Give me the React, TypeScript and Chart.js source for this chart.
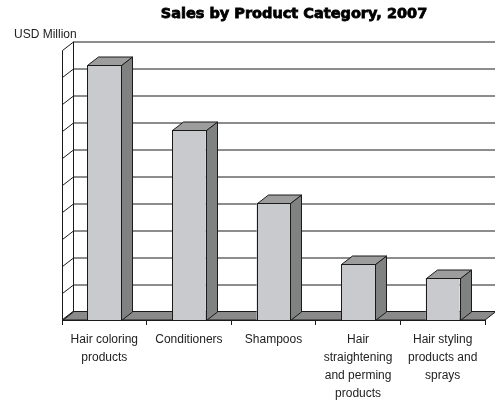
import React, { useEffect, useRef } from "react";
import { Chart, registerables } from "chart.js";

Chart.register(...registerables);

const title = "Sales by Product Category, 2007";
const unitLabel = "USD Million";
const categories: string[][] = [
  ["Hair coloring", "products"],
  ["Conditioners"],
  ["Shampoos"],
  ["Hair", "straightening", "and perming", "products"],
  ["Hair styling", "products and", "sprays"],
];
const salesValues = [9.45, 7.05, 4.35, 2.07, 1.55];
const axisMin = 0;
const axisMax = 10;
const axisStep = 1;

const DX = 11;
const DY = 8.5;

const FRONT = "#c9cacd";
const SIDE = "#808282";
const TOP = "#9d9d9d";
const FLOOR = "#8a8a8a";
const LINE = "#1a1a1a";

const threeD = {
  id: "threeD",
  beforeDatasetsDraw(chart: any) {
    const { ctx, chartArea, scales } = chart;
    const y = scales.y;
    const L = chartArea.left;
    const R = chartArea.right;
    const y0 = y.getPixelForValue(axisMin);
    const yTop = y.getPixelForValue(axisMax);
    ctx.save();
    ctx.lineWidth = 1;
    ctx.strokeStyle = LINE;
    // floor
    ctx.fillStyle = FLOOR;
    ctx.beginPath();
    ctx.moveTo(L, y0);
    ctx.lineTo(R, y0);
    ctx.lineTo(R + DX, y0 - DY);
    ctx.lineTo(L + DX, y0 - DY);
    ctx.closePath();
    ctx.fill();
    ctx.stroke();
    // back wall gridlines and left wall
    for (let v = axisMin; v <= axisMax; v += axisStep) {
      const py = Math.round(y.getPixelForValue(v)) + 0.5;
      if (v > axisMin) {
        ctx.beginPath();
        ctx.moveTo(L + DX, py - DY);
        ctx.lineTo(R + DX + 20, py - DY);
        ctx.stroke();
      }
      ctx.beginPath();
      ctx.moveTo(L + 0.5, py);
      ctx.lineTo(L + 0.5 + DX, py - DY);
      ctx.stroke();
    }
    ctx.beginPath();
    ctx.moveTo(L + 0.5, y0);
    ctx.lineTo(L + 0.5, Math.round(yTop) + 0.5);
    ctx.moveTo(Math.round(L + DX) + 0.5, y0 - DY);
    ctx.lineTo(Math.round(L + DX) + 0.5, Math.round(yTop) + 0.5 - DY);
    ctx.stroke();
    ctx.restore();
  },
  afterDatasetsDraw(chart: any) {
    const { ctx } = chart;
    const meta = chart.getDatasetMeta(0);
    ctx.save();
    ctx.lineWidth = 1;
    ctx.strokeStyle = LINE;
    ctx.lineJoin = "round";
    meta.data.forEach((bar: any) => {
      const p = bar.getProps(["x", "y", "base", "width"], true);
      const xl = Math.round(p.x - p.width / 2) + 0.5;
      const xr = Math.round(p.x + p.width / 2) + 0.5;
      const top = Math.round(p.y) + 0.5;
      const base = Math.round(p.base) + 0.5;
      // side
      ctx.fillStyle = SIDE;
      ctx.beginPath();
      ctx.moveTo(xr, top);
      ctx.lineTo(xr + DX, top - DY);
      ctx.lineTo(xr + DX, base - DY);
      ctx.lineTo(xr, base);
      ctx.closePath();
      ctx.fill();
      ctx.stroke();
      // top
      ctx.fillStyle = TOP;
      ctx.beginPath();
      ctx.moveTo(xl, top);
      ctx.lineTo(xr, top);
      ctx.lineTo(xr + DX, top - DY);
      ctx.lineTo(xl + DX, top - DY);
      ctx.closePath();
      ctx.fill();
      ctx.stroke();
      // front outline
      ctx.strokeRect(xl, top, xr - xl, base - top);
    });
    ctx.restore();
  },
  afterDraw(chart: any) {
    const { ctx } = chart;
    ctx.save();
    ctx.fillStyle = "#000";
    ctx.strokeStyle = "#000";
    ctx.lineWidth = 0.8;
    ctx.textBaseline = "alphabetic";
    ctx.textAlign = "center";
    ctx.font = "bold 14.5px 'DejaVu Sans'";
    ctx.fillText(title, 294, 18);
    ctx.strokeText(title, 294, 18);
    ctx.textAlign = "left";
    ctx.fillStyle = "#222";
    ctx.font = "12px 'Liberation Sans'";
    ctx.fillText(unitLabel, 14, 38);
    ctx.restore();
  },
};

export default function App() {
  const ref = useRef<HTMLCanvasElement | null>(null);
  useEffect(() => {
    if (!ref.current) return;
    const chart = new Chart(ref.current, {
      type: "bar",
      data: {
        labels: categories,
        datasets: [
          {
            data: salesValues,
            backgroundColor: FRONT,
            borderWidth: 0,
            barPercentage: 0.8,
            categoryPercentage: 0.5,
          },
        ],
      },
      options: {
        responsive: false,
        animation: false,
        layout: { padding: { left: 62, right: 10, top: 50, bottom: 0 } },
        plugins: {
          legend: { display: false },
          title: { display: false },
          tooltip: { enabled: false },
        },
        scales: {
          x: {
            offset: true,
            grid: {
              drawOnChartArea: false,
              drawTicks: true,
              tickLength: 5,
              color: LINE,
            },
            border: { display: true, color: LINE },
            ticks: {
              autoSkip: false,
              maxRotation: 0,
              minRotation: 0,
              padding: 6,
              color: "#222",
              font: { family: "'Liberation Sans'", size: 12, lineHeight: 1.49 },
            },
            afterFit: (s: any) => {
              s.height = 82;
            },
          },
          y: {
            display: false,
            min: axisMin,
            max: axisMax,
          },
        },
      },
      plugins: [threeD],
    });
    return () => chart.destroy();
  }, []);
  return (
    <div style={{ position: "absolute", left: 0, top: 0 }}>
      <canvas ref={ref} width={495} height={402} style={{ display: "block" }} />
    </div>
  );
}
